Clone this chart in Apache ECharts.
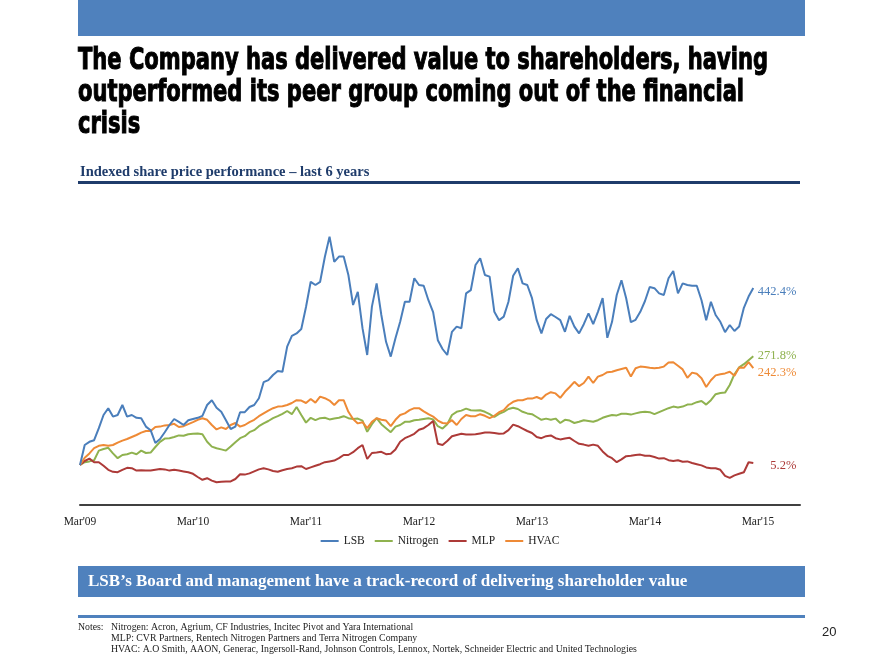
<!DOCTYPE html>
<html><head><meta charset="utf-8">
<script src="https://cdn.jsdelivr.net/npm/echarts@6/dist/echarts.min.js"></script>
<style>html,body{margin:0;padding:0;background:#fff}#c{width:880px;height:660px}</style>
</head><body><div id="c"></div>
<script>
// ---- Data (indexed % change since Mar'09, sampled every half month) ----
const yearLabels = ["Mar'09","Mar'10","Mar'11","Mar'12","Mar'13","Mar'14","Mar'15"];
const seriesNames = ['LSB','Nitrogen','MLP','HVAC'];
const samplesPerYear = 24;

const lsb = [0,50,58,62,92,125,142,121,125,150,121,125,118,117,96,87,55,65,82,100,115,108,100,112,
115,118,123,150,162,143,133,112,90,96,132,132,145,150,167,207,212,225,235,233,296,323,329,340,
395,458,450,458,520,571,508,521,521,475,400,433,342,275,396,454,375,308,271,317,358,408,408,467,450,
448,412,382,312,290,275,333,346,342,429,437,500,517,475,471,383,362,371,408,473,492,454,450,417,
362,329,365,377,370,362,333,373,346,329,352,379,352,383,417,318,358,425,462,417,357,363,383,410,445,
442,429,425,467,485,429,454,450,448,448,412,362,408,375,358,332,350,335,346,393,421,442.4];

const nitrogen = [0,7,9,12,36,40,43,29,17,25,27,31,27,36,30,31,45,58,66,67,70,74,73,77,
78,79,77,58,46,42,39,36,46,57,67,72,82,87,97,104,110,117,122,128,135,127,145,125,
106,118,112,117,118,114,116,118,122,117,115,116,111,83,102,117,102,92,82,96,100,108,108,112,113,
115,117,114,97,91,102,125,133,136,141,137,136,137,133,127,120,128,133,140,143,140,133,129,127,
120,113,116,113,116,105,113,111,105,108,112,110,108,112,118,122,125,124,128,128,126,129,132,133,132,
127,132,137,142,146,144,146,151,152,157,160,151,162,177,180,181,200,227,244,252,262,271.8];

const mlp = [0,10,16,7,7,-2,-12,-17,-18,-12,-7,-8,-14,-13,-14,-14,-12,-10,-11,-14,-12,-14,-16,-18,
-22,-30,-37,-33,-39,-43,-42,-41,-41,-35,-23,-24,-21,-16,-11,-8,-11,-15,-17,-13,-10,-8,-4,-3,
-10,-6,-2,2,7,9,11,17,25,25,32,42,50,15,30,31,33,27,28,39,58,67,72,78,88,
92,100,110,53,50,60,72,75,78,76,76,77,79,81,81,80,78,79,87,101,97,91,85,80,
70,67,72,74,67,64,66,68,60,53,51,48,51,48,34,23,17,7,14,22,23,25,26,23,23,
20,16,17,12,10,12,8,9,5,2,-1,-6,-8,-8,-12,-27,-32,-26,-22,-18,7,5.2];

const hvac = [0,18,29,42,48,50,48,50,56,61,65,70,75,81,85,85,95,96,99,100,103,95,97,102,
107,113,117,113,100,89,94,90,100,105,96,100,107,113,122,129,136,142,146,147,150,155,162,161,
155,165,156,171,167,161,150,162,162,133,115,104,107,92,108,117,113,111,97,113,125,129,137,142,142,
134,127,121,111,105,104,112,100,115,125,122,122,127,123,117,123,132,137,150,158,162,162,166,166,
170,165,176,182,179,168,183,195,208,197,205,221,205,221,225,232,233,237,240,243,221,242,246,245,243,
242,243,246,256,257,248,239,218,231,228,217,195,212,224,227,229,233,223,244,243,257,242.3];

const colors = {LSB:'#4a7ebb', Nitrogen:'#8fb24f', MLP:'#ad3a38', HVAC:'#ee8a36'};
const labelShift = {LSB:4, Nitrogen:-1, MLP:3, HVAC:5};
const valuesByName = {LSB:lsb, Nitrogen:nitrogen, MLP:mlp, HVAC:hvac};

const titleLines = [
  'The Company has delivered value to shareholders, having',
  'outperformed its peer group coming out of the financial',
  'crisis'
];
const subtitle = 'Indexed share price performance \u2013 last 6 years';
const banner = 'LSB\u2019s Board and management have a track-record of delivering shareholder value';
const notes = [
  'Nitrogen: Acron, Agrium, CF Industries, Incitec Pivot and Yara International',
  'MLP: CVR Partners, Rentech Nitrogen Partners and Terra Nitrogen Company',
  'HVAC: A.O Smith, AAON, Generac, Ingersoll-Rand, Johnson Controls, Lennox, Nortek, Schneider Electric and United Technologies'
];

// ---- layout helpers ----
const titleFontFamily = '"DejaVu Sans", sans-serif';
const titleFontSize = 30;
const ctx = document.createElement('canvas').getContext('2d');
ctx.font = 'bold ' + titleFontSize + 'px ' + titleFontFamily;
const titleScale = 690 / ctx.measureText(titleLines[0]).width;

const serif = '"Liberation Serif", "Times New Roman", serif';

const chart = echarts.init(document.getElementById('c'), null, {renderer: 'canvas'});

const series = seriesNames.map(name => ({
  name: name,
  type: 'line',
  showSymbol: false,
  symbol: 'none',
  data: valuesByName[name].map((v, i) => [i / samplesPerYear, v]),
  lineStyle: {width: 2, color: colors[name]},
  itemStyle: {color: colors[name]},
  z: name === 'LSB' ? 3 : 2,
  endLabel: {
    show: true,
    formatter: p => p.value[1].toFixed(1) + '%',
    color: colors[name],
    fontFamily: serif,
    fontSize: 12.5,
    distance: 4,
    align: 'right',
    offset: [39, labelShift[name]]
  }
}));

const graphics = [
  {type:'rect', shape:{x:78, y:0, width:727, height:36}, style:{fill:'#4f81bd'}, silent:true},
  {type:'rect', shape:{x:78, y:181, width:722, height:3}, style:{fill:'#1f3c6b'}, silent:true},
  {type:'rect', shape:{x:78, y:566, width:727, height:31}, style:{fill:'#4f81bd'}, silent:true},
  {type:'rect', shape:{x:78, y:615, width:727, height:3}, style:{fill:'#4f81bd'}, silent:true},
  {type:'text', x:80, y:172, style:{text: subtitle, font: 'bold 14.5px ' + serif, fill:'#1f3c6b', verticalAlign:'middle'}},
  {type:'text', x:88, y:582, style:{text: banner, font: 'bold 17px ' + serif, fill:'#ffffff', verticalAlign:'middle'}},
  {type:'text', x:78, y:627, style:{text: 'Notes:', font: '9.8px ' + serif, fill:'#222', verticalAlign:'middle'}},
  {type:'text', x:822, y:632, style:{text: '20', font: '13px "Liberation Sans", Arial, sans-serif', fill:'#222', verticalAlign:'middle'}}
];
const titleCenters = [61, 93, 125];
titleLines.forEach((t, k) => {
  graphics.push({type:'text', x:78, y:titleCenters[k], scaleX: titleScale,
    style:{text:t, font:'bold ' + titleFontSize + 'px ' + titleFontFamily, fill:'#000',
      stroke:'#000', lineWidth:1.1, verticalAlign:'middle',
      shadowColor:'rgba(0,0,0,0.3)', shadowBlur:2, shadowOffsetX:1, shadowOffsetY:1}});
});
notes.forEach((t, k) => {
  graphics.push({type:'text', x:111, y:627 + k * 11.3,
    style:{text:t, font:'9.8px ' + serif, fill:'#222', verticalAlign:'middle'}});
});

chart.setOption({
  animation: false,
  color: seriesNames.map(n => colors[n]),
  grid: {left: 80, right: 80, top: 225, bottom: 155, containLabel: false, outerBoundsMode: 'none'},
  xAxis: {
    type: 'value', min: 0, max: 720 / 113, interval: 1,
    splitLine: {show: false},
    axisTick: {show: false},
    axisLine: {show: true, onZero: false, lineStyle: {color: '#404040', width: 2}},
    axisLabel: {
      showMaxLabel: false,
      margin: 11,
      fontFamily: serif, fontSize: 11.5, color: '#222',
      formatter: v => (Math.abs(v - Math.round(v)) < 1e-6 && yearLabels[Math.round(v)]) ? yearLabels[Math.round(v)] : ''
    }
  },
  yAxis: {type: 'value', min: -100, max: 600, show: false, splitLine: {show: false}},
  legend: {
    data: seriesNames, top: 530, left: 'center',
    icon: 'rect', itemWidth: 18, itemHeight: 2, itemGap: 10,
    textStyle: {fontFamily: serif, fontSize: 11.5, color: '#222'}
  },
  graphic: graphics,
  series: series
});
</script>
</body></html>
